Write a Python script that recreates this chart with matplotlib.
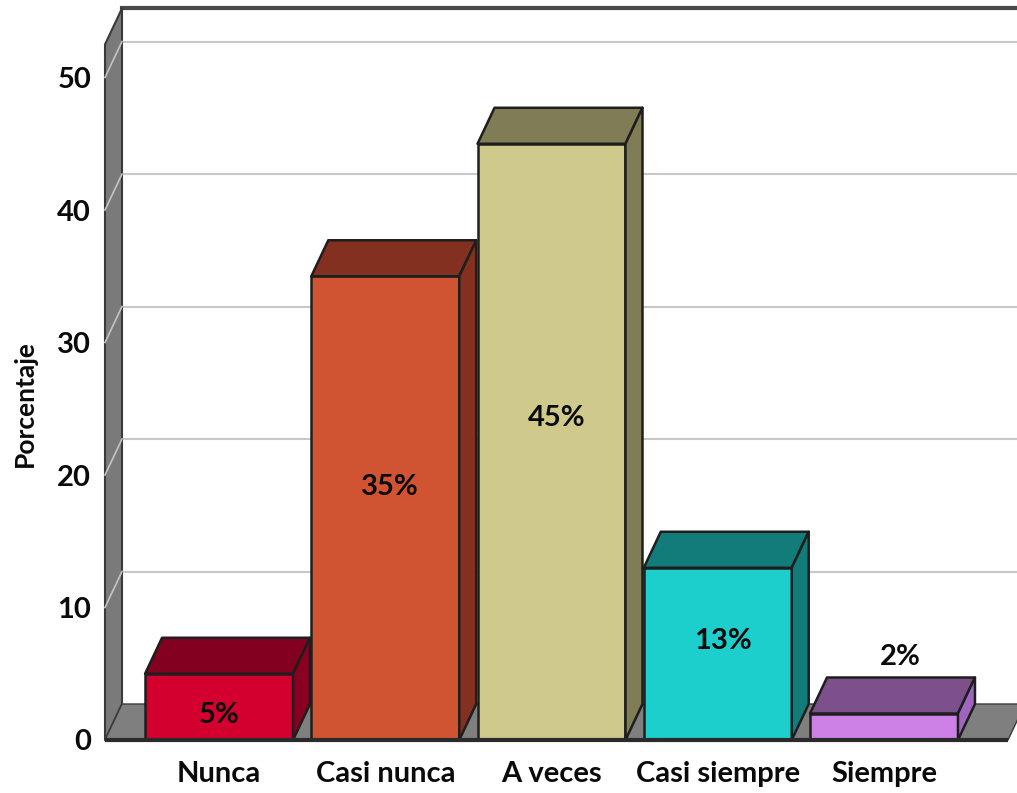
import matplotlib
matplotlib.use('Agg')
import matplotlib.pyplot as plt
from matplotlib.patches import Polygon

# datos
categorias = ['Nunca', 'Casi nunca', 'A veces', 'Casi siempre', 'Siempre']
porcentajes = [5, 35, 45, 13, 2]
etiquetas = ['5%', '35%', '45%', '13%', '2%']
yticks = [0, 10, 20, 30, 40, 50]

# colores: cara frontal, tapa y lateral
frente = ['#d3002f', '#d05432', '#cfc98b', '#1ccfcc', '#cd80e6']
tapa = ['#830020', '#843020', '#807c55', '#127c7a', '#7d4f8b']
lateral = ['#8a0022', '#843020', '#807c55', '#127c7a', '#a066bd']

# posicion de las etiquetas de valor (desplazamiento x, altura)
lab_dx = [0.0, 0.03, 0.03, 0.03, 0.1]
lab_y = [1.9, 19.1, 24.3, 7.5, 6.3]

FUENTE = 'Lato'
W, H = 1017, 793
fig = plt.figure(figsize=(W / 100, H / 100), dpi=100)
ax = fig.add_axes([105 / W, 53 / H, 903 / W, 695.6 / H])

ymax = 52.5
xmin, xmax = -0.686, 4.746
ax.set_xlim(xmin, xmax)
ax.set_ylim(0, ymax)

# profundidad del efecto 3D en unidades de datos
dx = 17 / 166.25
dy = 36 / 13.25
ancho = 0.89
borde = '#1e1e1e'

def poly(pts, fc, ec='none', lw=0, z=1):
    p = Polygon(pts, closed=True, facecolor=fc, edgecolor=ec, linewidth=lw,
                zorder=z, clip_on=False, joinstyle='round')
    ax.add_patch(p)

# pared del fondo con rejilla
for v in yticks[1:]:
    ax.plot([xmin + dx, xmax + dx + 0.3], [v + dy, v + dy], color='#c8c8c8',
            lw=1.5, zorder=1, clip_on=False)
ax.plot([xmin + dx, xmax + dx + 0.3], [ymax + dy, ymax + dy], color='#4a4a4a',
        lw=3, zorder=1, clip_on=False)

# pared izquierda
poly([(xmin, 0), (xmin, ymax), (xmin + dx, ymax + dy), (xmin + dx, dy)],
     '#7a7a7a', '#3a3a3a', 1.5, z=2)
for v in yticks[1:]:
    ax.plot([xmin, xmin + dx], [v, v + dy], color='#c4c4c4', lw=1.2, zorder=3,
            clip_on=False)

# suelo
poly([(xmin, 0), (xmax, 0), (xmax + dx, dy), (xmin + dx, dy)],
     '#7f7f7f', '#3a3a3a', 1.0, z=2)
ax.plot([xmin, xmax], [0, 0], color='#2a2a2a', lw=3, zorder=8, clip_on=False,
        solid_capstyle='butt')

# barras 3D
for i, v in enumerate(porcentajes):
    x0, x1 = i - ancho / 2, i + ancho / 2
    z = 4 + i * 0.1
    poly([(x0, 0), (x1, 0), (x1, v), (x0, v)], frente[i], borde, 1.8, z)
    poly([(x0, v), (x1, v), (x1 + dx, v + dy), (x0 + dx, v + dy)], tapa[i],
         borde, 1.8, z)
    poly([(x1, 0), (x1 + dx, dy), (x1 + dx, v + dy), (x1, v)], lateral[i],
         borde, 1.8, z)
    ax.text(i + lab_dx[i], lab_y[i], etiquetas[i], ha='center', va='center',
            fontsize=21, fontweight='bold', family=FUENTE,
            color='#0a0a0a', zorder=10)

ax.set_xticks(range(len(categorias)))
ax.set_xticklabels(categorias)
ax.set_yticks(yticks)
for s in ax.spines.values():
    s.set_visible(False)
ax.tick_params(length=0)
ax.tick_params(axis='x', pad=15)
ax.tick_params(axis='y', pad=10)
for t in ax.get_xticklabels() + ax.get_yticklabels():
    t.set_fontsize(21)
    t.set_fontweight('bold')
    t.set_family(FUENTE)
    t.set_color('#0a0a0a')
ax.patch.set_alpha(0)

fig.text(25 / W, 1 - 404 / H, 'Porcentaje', rotation=90, ha='center',
         va='center', fontsize=19, fontweight='bold', family=FUENTE,
         color='#0a0a0a')

fig.savefig('out.png', dpi=100)
